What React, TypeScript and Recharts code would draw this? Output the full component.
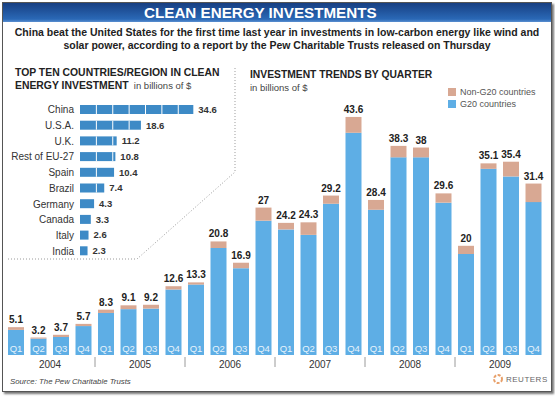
import React from "react";
import { BarChart, Bar, XAxis, YAxis, LabelList } from "recharts";

const countries = ["China", "U.S.A.", "U.K.", "Rest of EU-27", "Spain", "Brazil", "Germany", "Canada", "Italy", "India"];
const countryValues = [34.6, 18.6, 11.2, 10.8, 10.4, 7.4, 4.3, 3.3, 2.6, 2.3];

const quarters = ["Q1", "Q2", "Q3", "Q4", "Q1", "Q2", "Q3", "Q4", "Q1", "Q2", "Q3", "Q4", "Q1", "Q2", "Q3", "Q4", "Q1", "Q2", "Q3", "Q4", "Q1", "Q2", "Q3", "Q4"];
const quarterYears = ["2004", "2004", "2004", "2004", "2005", "2005", "2005", "2005", "2006", "2006", "2006", "2006", "2007", "2007", "2007", "2007", "2008", "2008", "2008", "2008", "2009", "2009", "2009", "2009"];
const totals = [5.1, 3.2, 3.7, 5.7, 8.3, 9.1, 9.2, 12.6, 13.3, 20.8, 16.9, 27, 24.2, 24.3, 29.2, 43.6, 28.4, 38.3, 38, 29.6, 20, 35.1, 35.4, 31.4];
const g20 = [4.6, 3.0, 3.3, 5.3, 7.7, 8.4, 8.5, 12.0, 12.9, 19.6, 15.9, 24.6, 23.0, 22.0, 27.7, 40.7, 26.6, 36.2, 36.2, 27.9, 18.5, 34.1, 32.7, 28.0];
const nonG20 = [0.5, 0.2, 0.4, 0.4, 0.6, 0.7, 0.7, 0.6, 0.4, 1.2, 1.0, 2.4, 1.2, 2.3, 1.5, 2.9, 1.8, 2.1, 1.8, 1.7, 1.5, 1.0, 2.7, 3.4];

const countryData = countries.map((name, i) => ({ name, value: countryValues[i] }));
const quarterData = quarters.map((q, i) => ({
  q,
  year: quarterYears[i],
  total: totals[i],
  g20: g20[i],
  nonG20: nonG20[i],
}));

const FONT = "'Liberation Sans', Arial, Helvetica, sans-serif";
const LEFT_BLUE = "#3d8ac6";
const G20_BLUE = "#5eaee5";
const TAN = "#d8a893";

const SegmentBar = (props: any) => {
  const { x, y, width, height, payload } = props;
  if (!width || width <= 0) return null;
  const step = (width / payload.value) * 5;
  const lines = [];
  for (let k = 1; k * step < width - 2; k++) {
    lines.push(
      <line key={k} x1={x + k * step} x2={x + k * step} y1={y} y2={y + height} stroke="#ffffff" strokeWidth={1} />
    );
  }
  return (
    <g>
      <rect x={x} y={y} width={width} height={height} fill={LEFT_BLUE} />
      {lines}
    </g>
  );
};

const CountryTick = (props: any) => {
  const { x, y, payload } = props;
  return (
    <text x={x + 2} y={y} dy="0.35em" textAnchor="end" fontSize={10} fill="#333" fontFamily={FONT}>
      {payload.value}
    </text>
  );
};

const YearTick = (props: any) => {
  const { x, y, payload, index } = props;
  return (
    <g>
      {index > 0 && <line x1={x - 45} x2={x - 45} y1={y - 6} y2={y + 4} stroke="#9a9a9a" strokeWidth={1} />}
      <text x={x} y={y + 5} textAnchor="middle" fontSize={10} fill="#333" fontFamily={FONT}>
        {payload.value}
      </text>
    </g>
  );
};

export default function App() {
  return (
    <div style={{ position: "absolute", left: 0, top: 0, width: 555, height: 397, background: "#fff", fontFamily: FONT }}>
      {/* frame */}
      <div
        style={{
          position: "absolute",
          left: 2,
          top: 2,
          width: 548,
          height: 388,
          border: "1px solid #555",
          boxShadow: "2px 2px 2px #777",
          background: "#fff",
        }}
      />
      {/* title bar */}
      <div
        style={{
          position: "absolute",
          left: 3,
          top: 3,
          width: 548,
          height: 19,
          background: "linear-gradient(#173f82, #2a68b6 85%, #5a8fd0)",
        }}
      />
      <div
        style={{
          position: "absolute",
          left: 144,
          top: 3,
          height: 19,
          color: "#fff",
          fontWeight: "bold",
          fontSize: 15.2,
          lineHeight: "19px",
          whiteSpace: "nowrap",
        }}
      >
        CLEAN ENERGY INVESTMENTS
      </div>
      <div
        style={{
          position: "absolute",
          left: 3,
          top: 26,
          width: 548,
          textAlign: "center",
          fontWeight: "bold",
          fontSize: 10.5,
          lineHeight: "13px",
          color: "#222",
        }}
      >
        China beat the United States for the first time last year in investments in low-carbon energy like wind and
        <br />
        solar power, according to a report by the Pew Charitable Trusts released on Thursday
      </div>

      {/* left panel header */}
      <div style={{ position: "absolute", left: 15, top: 66, fontSize: 10.4, lineHeight: "13px", color: "#222", whiteSpace: "nowrap" }}>
        <b>TOP TEN COUNTRIES/REGION IN CLEAN</b>
        <br />
        <b>ENERGY INVESTMENT</b>
        <span style={{ fontSize: 9.5, color: "#444" }}>&nbsp; in billions of $</span>
      </div>

      {/* right header */}
      <div style={{ position: "absolute", left: 250, top: 68, fontSize: 10.3, lineHeight: "13px", color: "#222", whiteSpace: "nowrap" }}>
        <b>INVESTMENT TRENDS BY QUARTER</b>
        <br />
        <span style={{ fontSize: 9.5, color: "#444" }}>in billions of $</span>
      </div>

      {/* legend */}
      <div style={{ position: "absolute", left: 448, top: 86, fontSize: 9, lineHeight: "12px", color: "#555", whiteSpace: "nowrap" }}>
        <div style={{ display: "flex", alignItems: "center" }}>
          <span style={{ width: 8, height: 8, background: TAN, display: "inline-block", marginRight: 4 }} />
          Non-G20 countries
        </div>
        <div style={{ display: "flex", alignItems: "center" }}>
          <span style={{ width: 8, height: 8, background: G20_BLUE, display: "inline-block", marginRight: 4 }} />
          G20 countries
        </div>
      </div>

      {/* dotted connector */}
      <svg style={{ position: "absolute", left: 0, top: 0 }} width={555} height={397}>
        <polyline
          points="8,259 137,259 235,172 235,68"
          fill="none"
          stroke="#9a9a9a"
          strokeWidth={1}
          strokeDasharray="1 2"
        />
      </svg>

      {/* main chart */}
      <div style={{ position: "absolute", left: 0, top: 0 }}>
        <BarChart
          width={555}
          height={397}
          data={quarterData}
          margin={{ top: 82, right: 10, bottom: 22, left: 5 }}
          barSize={16}
        >
          <YAxis hide domain={[0, 50]} type="number" />
          <XAxis hide dataKey="q" xAxisId={0} height={0} />
          <XAxis
            xAxisId="year"
            dataKey="year"
            allowDuplicatedCategory={false}
            axisLine={false}
            tickLine={false}
            height={20}
            interval={0}
            tick={<YearTick />}
          />
          <Bar dataKey="g20" stackId="a" fill={G20_BLUE} isAnimationActive={false}>
            <LabelList
              dataKey="q"
              position="insideBottom"
              offset={3}
              fill="#e6f3fc"
              fontSize={9.5}
              fontFamily={FONT}
            />
          </Bar>
          <Bar dataKey="nonG20" stackId="a" fill={TAN} isAnimationActive={false}>
            <LabelList
              dataKey="total"
              position="top"
              offset={4}
              fill="#222"
              fontSize={10}
              fontWeight="bold"
              fontFamily={FONT}
            />
          </Bar>
        </BarChart>
      </div>

      {/* left chart */}
      <div style={{ position: "absolute", left: 0, top: 0 }}>
        <BarChart
          layout="vertical"
          width={240}
          height={270}
          data={countryData}
          margin={{ top: 102, right: 29, bottom: 11, left: 0 }}
          barSize={9}
        >
          <XAxis type="number" hide domain={[0, 40]} />
          <YAxis
            type="category"
            dataKey="name"
            width={80}
            axisLine={false}
            tickLine={false}
            interval={0}
            tick={<CountryTick />}
          />
          <Bar dataKey="value" isAnimationActive={false} shape={<SegmentBar />}>
            <LabelList
              dataKey="value"
              position="right"
              offset={5}
              fill="#333"
              fontSize={9.5}
              fontWeight="bold"
              fontFamily={FONT}
            />
          </Bar>
        </BarChart>
      </div>

      {/* source */}
      <div style={{ position: "absolute", left: 10, top: 377, fontSize: 7.8, fontStyle: "italic", color: "#444", whiteSpace: "nowrap" }}>
        Source: The Pew Charitable Trusts
      </div>
      <div style={{ position: "absolute", left: 493, top: 374, display: "flex", alignItems: "center", fontSize: 8, color: "#666", letterSpacing: 0.5 }}>
        <svg width={10} height={10} style={{ marginRight: 3 }}>
          <circle cx={5} cy={5} r={4} fill="none" stroke="#e8a06a" strokeWidth={2} strokeDasharray="3 1.5" />
        </svg>
        REUTERS
      </div>
    </div>
  );
}
